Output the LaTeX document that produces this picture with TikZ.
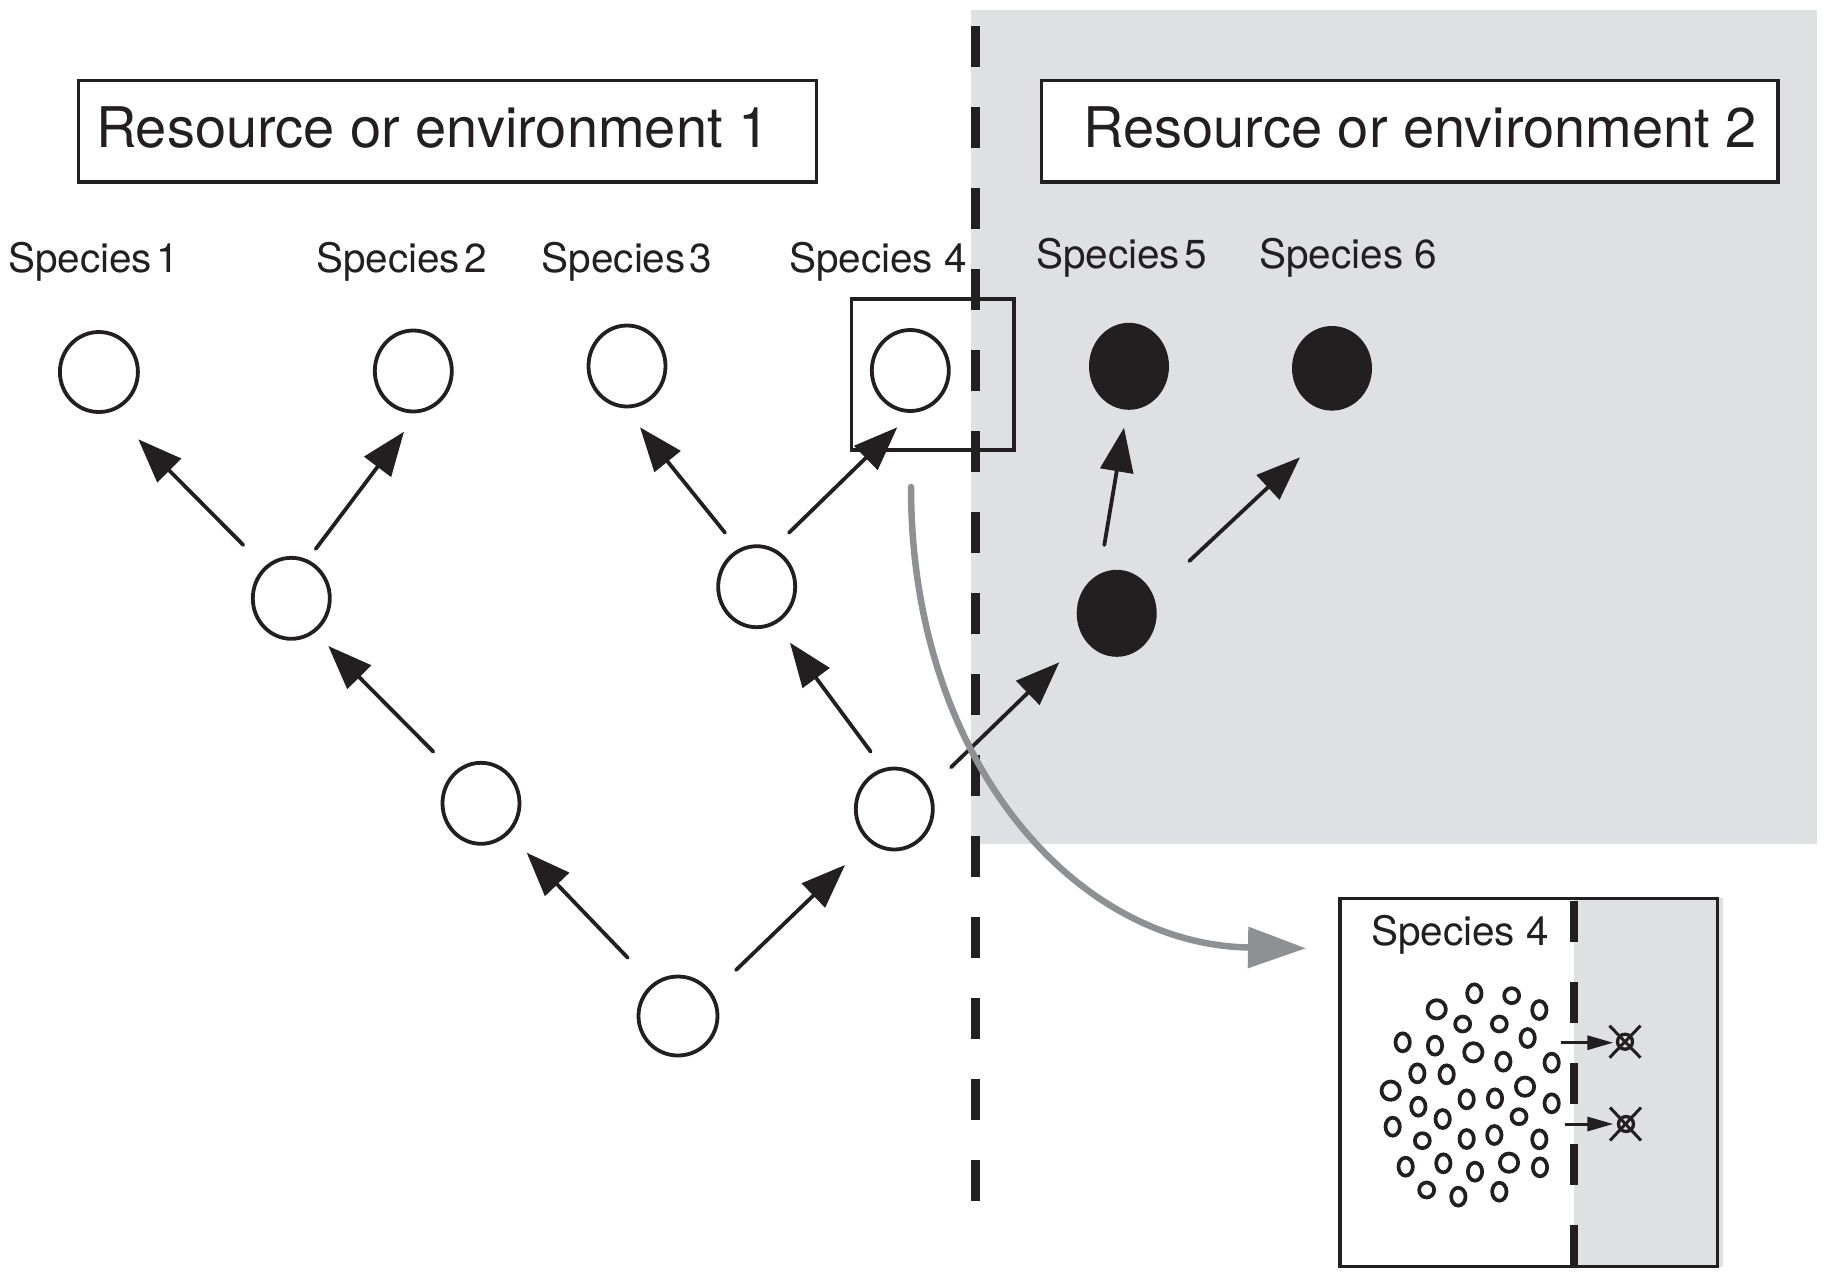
\documentclass[tikz,border=0pt]{standalone}
\usepackage{fontspec}
\setmainfont{TeX Gyre Heros}
\usetikzlibrary{arrows.meta,calc,shapes.geometric}
\definecolor{ink}{HTML}{231F20}
\definecolor{zone}{HTML}{DFE0E2}
\definecolor{curvegray}{HTML}{8E9094}
\begin{document}
\begin{tikzpicture}[x=1bp,y=-1bp,
  opencirc/.style={ellipse, draw=ink, line width=3.8bp, fill=white, minimum width=77bp, minimum height=81bp, inner sep=0, outer sep=0},
  fullcirc/.style={ellipse, fill=ink, minimum width=80bp, minimum height=87bp, inner sep=0, outer sep=0},
  arr/.style={draw=ink, line width=3.8bp, line cap=round, -{Triangle[length=44bp,width=33bp]}},
  smallarr/.style={draw=ink, line width=3bp, -{Triangle[length=26bp,width=14bp]}},
  splabel/.style={anchor=base west, inner sep=0, outer sep=0, text=ink, font=\fontsize{40.5bp}{46bp}\selectfont},
  titletext/.style={anchor=base west, inner sep=0, outer sep=0, text=ink, font=\fontsize{56bp}{63bp}\selectfont},
  envbox/.style={rectangle, draw=ink, line width=3.2bp, fill=white, inner sep=0, outer sep=0},
  framebox/.style={rectangle, draw=ink, line width=3.2bp, inner sep=0, outer sep=0},
  divider/.style={draw=ink, line width=9bp, dash pattern=on 40.5bp off 40.5bp},
  smalldivider/.style={draw=ink, line width=8.7bp, dash pattern=on 41bp off 40bp},
  curvearr/.style={draw=curvegray, line width=6.5bp, line cap=round, -{Triangle[length=58bp,width=40bp]}},
  dot/.style={draw=ink, line width=3.7bp},
  xcirc/.style={circle, draw=ink, line width=3.3bp, minimum size=15bp, inner sep=0, outer sep=0},
  xline/.style={draw=ink, line width=3bp},
]
\useasboundingbox (0,0) rectangle (1824,1278);

% shaded environment 2
\fill[zone] (971,10) rectangle (1817,844);

% environment boxes
\node[envbox, minimum width=737.9bp, minimum height=101.5bp] (env1) at (447.35,131.2) {};
\node[titletext] (env1label) at (96,147) {Resource or environment 1};
\node[envbox, minimum width=736.3bp, minimum height=101.5bp] (env2) at (1409.85,131.2) {};
\node[titletext] (env2label) at (1083.5,147.3) {Resource or environment 2};

% species labels
\node[splabel] (lab1) at (8,272.7) {Species\kern0.1em 1};
\node[splabel] (lab2) at (316,272.7) {Species\kern0.1em 2};
\node[splabel] (lab3) at (541.7,272.7) {Species\kern0.1em 3};
\node[splabel] (lab4) at (789,272.7) {Species 4};
\node[splabel] (lab5) at (1036,268.3) {Species\kern0.1em 5};
\node[splabel] (lab6) at (1259.3,268.3) {Species 6};

% frame round species 4
\node[framebox, minimum width=162.3bp, minimum height=151bp] (sp4box) at (932.85,374.5) {};

% dividing line
\coordinate (divtop) at (975.7,26);
\coordinate (divbot) at (975.7,1201);
\draw[divider] (divtop) -- (divbot);

% tree nodes
\node[opencirc, minimum width=78bp, minimum height=80bp] (sp1) at (98.9,372) {};
\node[opencirc] (sp2) at (413.3,371) {};
\node[opencirc] (sp3) at (627,366) {};
\node[opencirc] (sp4) at (910.3,370.5) {};
\node[fullcirc] (sp5) at (1129,366.3) {};
\node[fullcirc, minimum height=84.6bp] (sp6) at (1332,368.3) {};
\node[opencirc] (nA) at (291.3,598.3) {};
\node[opencirc] (nC) at (756.7,586.7) {};
\node[fullcirc] (nF) at (1116.7,613.3) {};
\node[opencirc] (nB) at (481,803.3) {};
\node[opencirc] (nD) at (894.3,809) {};
\node[opencirc, minimum width=79bp, minimum height=79bp] (nR) at (678,1016) {};

% arrows
\draw[arr] ($(nA)+(-48,-53.3)$) -- ($(sp1)+(39.4,67.3)$);
\draw[arr] ($(nA)+(24.4,-49.3)$) -- ($(sp2)+(-9.3,60.7)$);
\draw[arr] ($(nB)+(-47.7,-51.6)$) -- ($(nA)+(37,47.7)$);
\draw[arr] ($(nC)+(-31.7,-54)$) -- ($(sp3)+(13,61.3)$);
\draw[arr] ($(nC)+(32.3,-54)$) -- ($(sp4)+(-13,56.8)$);
\draw[arr] ($(nD)+(-23.6,-57.3)$) -- ($(nC)+(33.3,56)$);
\draw[arr] ($(nD)+(56.7,-41.7)$) -- ($(nF)+(-57.4,49)$);
\draw[arr] ($(nF)+(-12.4,-68.3)$) -- ($(sp5)+(-5,61.4)$);
\draw[arr] ($(nF)+(72.6,-52.3)$) -- ($(sp6)+(-32,89)$);
\draw[arr] ($(nR)+(-50.3,-58.3)$) -- ($(nB)+(45.7,49.4)$);
\draw[arr] ($(nR)+(58,-46)$) -- ($(nD)+(-49.3,56)$);

% inset
\fill[zone] (1574,898.3) rectangle (1723,1266.7);
\node[framebox, minimum width=377.7bp, minimum height=368.4bp] (inset) at (1528.85,1082.5) {};
\coordinate (itop) at (1574,900.5);
\coordinate (ibot) at (1574,1266);
\draw[smalldivider] (itop) -- (ibot);
\node[splabel, font=\fontsize{40.5bp}{46bp}\selectfont] (inlab) at (1371,945) {Species 4};

% gray curved arrow
\draw[curvearr] ($(sp4)+(0.7,116.5)$) .. controls (911,760) and (1075,945) .. ($(inset.north west)+(-34,50)$);

% population of individuals
\begin{scope}[shift={(1300,880)}, scale=1/3]
  \foreach \px/\py in {523/340, 718/390, 683/474, 308/487, 405/497, 610/545, 755/548, 352/580, 440/583,
                       500/658, 585/655, 355/680, 755/670, 428/717, 278/740, 500/777, 583/765, 718/778,
                       317/860, 430/850, 525/875, 720/862, 475/950, 598/935}
    \draw[dot] (\px,\py) ellipse [x radius=21.5, y radius=27];
  \foreach \px/\py in {635/347, 488/432, 598/432, 657/710, 367/782, 380/930}
    \draw[dot] (\px,\py) ellipse [x radius=22.5, y radius=22.5];
  \foreach \px/\py in {410/388, 520/517, 272/632, 675/620, 627/848}
    \draw[dot] (\px,\py) ellipse [x radius=27.5, y radius=27.5];
\end{scope}

% emigrants that fail
\node[xcirc] (x1) at (1625,1041.7) {};
\node[xcirc] (x2) at (1626,1124) {};
\draw[xline] ($(x1)+(-15.5,-16)$) -- ($(x1)+(15.5,16)$);
\draw[xline] ($(x1)+(15.5,-16)$) -- ($(x1)+(-15.5,16)$);
\draw[xline] ($(x2)+(-16,-16.5)$) -- ($(x2)+(15,16.5)$);
\draw[xline] ($(x2)+(15,-16.5)$) -- ($(x2)+(-16,16.5)$);
\coordinate (ia1) at (1560.7,1042.7);
\coordinate (ia2) at (1565,1124);
\draw[smallarr] (ia1) -- ($(x1)+(-11.7,1)$);
\draw[smallarr] (ia2) -- ($(x2)+(-12.7,0)$);
\end{tikzpicture}
\end{document}
